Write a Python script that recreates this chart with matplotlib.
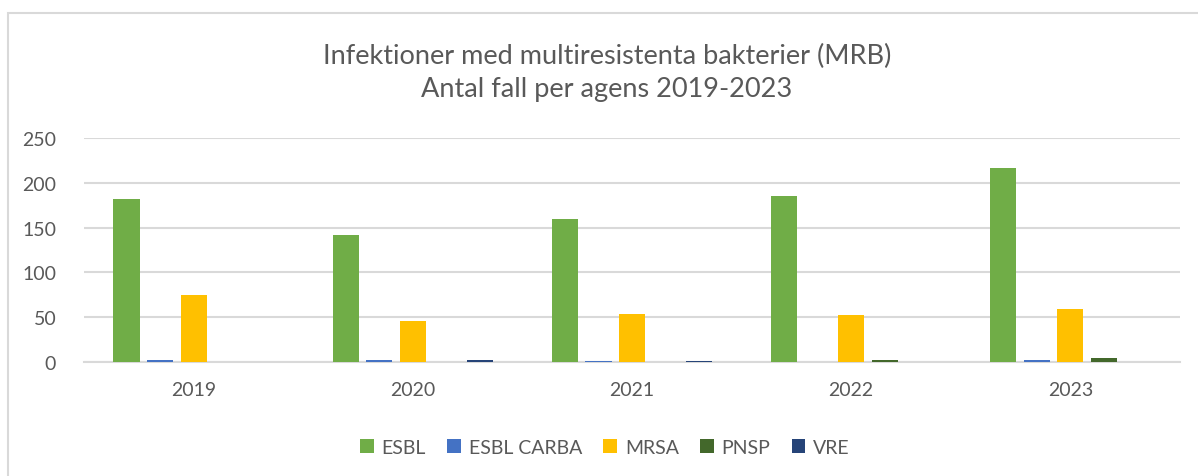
import matplotlib.pyplot as plt
import numpy as np
from matplotlib.patches import Rectangle

years = ["2019", "2020", "2021", "2022", "2023"]
agents = ["ESBL", "ESBL CARBA", "MRSA", "PNSP", "VRE"]
esbl = [182, 142, 160, 185, 217]
esbl_carba = [2, 2, 1, 0, 2]
mrsa = [75, 46, 54, 53, 59]
pnsp = [0, 0, 0, 2, 5]
vre = [0, 2, 1, 0, 0]
colors = ["#70ad47", "#4472c4", "#ffc000", "#43682b", "#264478"]

plt.rcParams['font.family'] = ['Lato', 'DejaVu Sans']
txt = "#595959"

fig = plt.figure(figsize=(11.98, 4.77), dpi=100)
W, H = 1198, 477
ax = fig.add_axes([84 / W, 1 - 363 / H, (1180 - 84) / W, (363 - 139) / H])

# outer chart border (cut off at right and bottom)
fig.add_artist(Rectangle((8 / W, -0.1), 1.2, 1 - 14 / H + 0.1, transform=fig.transFigure,
                         fill=False, edgecolor="#d9d9d9", linewidth=1.5))

x = np.arange(len(years))
step = 0.153
width = 0.119
series = [esbl, esbl_carba, mrsa, pnsp, vre]
for i, (name, vals) in enumerate(zip(agents, series)):
    ax.bar(x + (i - 2) * step, vals, width, color=colors[i], label=name, zorder=3)

ax.set_xlim(-0.5, 4.5)
ax.set_ylim(0, 250)
ax.set_yticks(range(0, 251, 50))
ax.yaxis.grid(True, color="#d9d9d9", linewidth=1.5, zorder=0)
ax.set_xticks(x)
ax.set_xticklabels(years)
for s in ["top", "right", "left"]:
    ax.spines[s].set_visible(False)
ax.spines["bottom"].set_color("#d9d9d9")
ax.spines["bottom"].set_linewidth(1.5)
ax.tick_params(axis="both", length=0, labelsize=14, colors=txt)
ax.tick_params(axis="x", pad=14)
ax.tick_params(axis="y", pad=20)

fig.text(607 / W, 1 - 73 / H, "Infektioner med multiresistenta bakterier (MRB)\nAntal fall per agens 2019-2023",
         ha="center", va="center", fontsize=19.5, color=txt, linespacing=1.4)

fig.legend(loc="center", bbox_to_anchor=(605 / W, 1 - 448 / H), ncol=5, frameon=False,
           fontsize=14, labelcolor=txt, handlelength=0.7, handleheight=0.7,
           columnspacing=1.1, handletextpad=0.4)

fig.savefig("out.png", dpi=100)
